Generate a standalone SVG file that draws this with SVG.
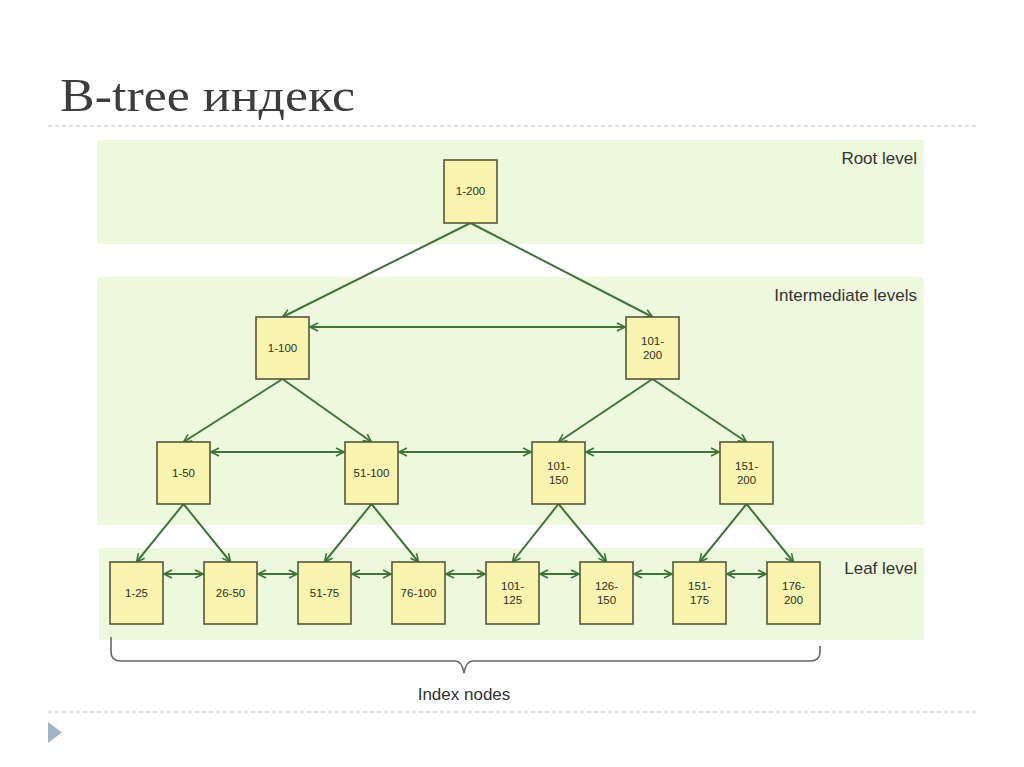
<svg xmlns="http://www.w3.org/2000/svg" width="1024" height="767" viewBox="0 0 1024 767">
<defs>
<style>
.band{fill:#edf9dc}
.node rect{fill:#f8f4b0;stroke:#55573a;stroke-width:1.6}
.node text{font-family:"Liberation Sans",Arial,sans-serif;font-size:11.5px;fill:#2e2e22;text-anchor:middle}
.edge{stroke:#3d7538;stroke-width:2;fill:none}
.lvl{font-family:"Liberation Sans",Arial,sans-serif;font-size:17px;fill:#333;text-anchor:end}
.dash{stroke:#b7bfc6;stroke-width:1.2;stroke-dasharray:4 3}
</style>
<marker id="ah" viewBox="0 0 10 10" refX="9" refY="5" markerWidth="5" markerHeight="5" orient="auto-start-reverse" markerUnits="strokeWidth">
<path d="M1,1 L9,5 L1,9" fill="none" stroke="#3d7538" stroke-width="1.6"/>
</marker>
</defs>
<rect width="1024" height="767" fill="#ffffff"/>
<text x="60" y="111" font-family="'Liberation Serif','Times New Roman',serif" font-size="46" fill="#3d3d3d" textLength="295" lengthAdjust="spacingAndGlyphs">B-tree индекс</text>
<line class="dash" x1="48" y1="126" x2="976" y2="126"/>
<line class="dash" x1="48" y1="712" x2="976" y2="712"/>
<polygon points="48,722 62,732.5 48,743" fill="#a0b6c4"/>

<g id="bands">
<rect class="band" x="97" y="140" width="827" height="104"/>
<rect class="band" x="97" y="277" width="827" height="248"/>
<rect class="band" x="99" y="548" width="825" height="92"/>
</g>
<g id="level-labels">
<text class="lvl" x="917" y="164">Root level</text>
<text class="lvl" x="917" y="301">Intermediate levels</text>
<text class="lvl" x="917" y="574">Leaf level</text>
</g>

<g id="connectors">
<line class="edge" x1="470.5" y1="223" x2="282.5" y2="317" marker-end="url(#ah)"/>
<line class="edge" x1="470.5" y1="223" x2="652.5" y2="317" marker-end="url(#ah)"/>
<line class="edge" x1="282.5" y1="379" x2="183.5" y2="442" marker-end="url(#ah)"/>
<line class="edge" x1="282.5" y1="379" x2="371.5" y2="442" marker-end="url(#ah)"/>
<line class="edge" x1="652.5" y1="379" x2="558.5" y2="442" marker-end="url(#ah)"/>
<line class="edge" x1="652.5" y1="379" x2="746.5" y2="442" marker-end="url(#ah)"/>
<line class="edge" x1="183.5" y1="504" x2="136.5" y2="562" marker-end="url(#ah)"/>
<line class="edge" x1="183.5" y1="504" x2="230.5" y2="562" marker-end="url(#ah)"/>
<line class="edge" x1="371.5" y1="504" x2="324.5" y2="562" marker-end="url(#ah)"/>
<line class="edge" x1="371.5" y1="504" x2="418.5" y2="562" marker-end="url(#ah)"/>
<line class="edge" x1="558.5" y1="504" x2="512.5" y2="562" marker-end="url(#ah)"/>
<line class="edge" x1="558.5" y1="504" x2="606.5" y2="562" marker-end="url(#ah)"/>
<line class="edge" x1="746.5" y1="504" x2="699.5" y2="562" marker-end="url(#ah)"/>
<line class="edge" x1="746.5" y1="504" x2="793.5" y2="562" marker-end="url(#ah)"/>
<line class="edge" x1="310" y1="327" x2="625" y2="327" marker-start="url(#ah)" marker-end="url(#ah)"/>
<line class="edge" x1="211" y1="452" x2="344" y2="452" marker-start="url(#ah)" marker-end="url(#ah)"/>
<line class="edge" x1="399" y1="452" x2="531" y2="452" marker-start="url(#ah)" marker-end="url(#ah)"/>
<line class="edge" x1="586" y1="452" x2="719" y2="452" marker-start="url(#ah)" marker-end="url(#ah)"/>
<line class="edge" x1="164" y1="574" x2="203" y2="574" marker-start="url(#ah)" marker-end="url(#ah)"/>
<line class="edge" x1="258" y1="574" x2="297" y2="574" marker-start="url(#ah)" marker-end="url(#ah)"/>
<line class="edge" x1="352" y1="574" x2="391" y2="574" marker-start="url(#ah)" marker-end="url(#ah)"/>
<line class="edge" x1="446" y1="574" x2="485" y2="574" marker-start="url(#ah)" marker-end="url(#ah)"/>
<line class="edge" x1="540" y1="574" x2="579" y2="574" marker-start="url(#ah)" marker-end="url(#ah)"/>
<line class="edge" x1="634" y1="574" x2="672" y2="574" marker-start="url(#ah)" marker-end="url(#ah)"/>
<line class="edge" x1="727" y1="574" x2="766" y2="574" marker-start="url(#ah)" marker-end="url(#ah)"/>
</g>

<g id="n-1-200" class="node"><rect x="444" y="160" width="53" height="63"/><text x="470.5" y="195">1-200</text></g>
<g id="n-1-100" class="node"><rect x="256" y="317" width="53" height="62"/><text x="282.5" y="352">1-100</text></g>
<g id="n-101-200" class="node"><rect x="626" y="317" width="53" height="62"/><text x="652.5" y="345">101-</text><text x="652.5" y="359">200</text></g>
<g id="n-1-50" class="node"><rect x="157" y="442" width="53" height="62"/><text x="183.5" y="477">1-50</text></g>
<g id="n-51-100" class="node"><rect x="345" y="442" width="53" height="62"/><text x="371.5" y="477">51-100</text></g>
<g id="n-101-150" class="node"><rect x="532" y="442" width="53" height="62"/><text x="558.5" y="470">101-</text><text x="558.5" y="484">150</text></g>
<g id="n-151-200" class="node"><rect x="720" y="442" width="53" height="62"/><text x="746.5" y="470">151-</text><text x="746.5" y="484">200</text></g>
<g id="n-1-25" class="node"><rect x="110" y="562" width="53" height="62"/><text x="136.5" y="597">1-25</text></g>
<g id="n-26-50" class="node"><rect x="204" y="562" width="53" height="62"/><text x="230.5" y="597">26-50</text></g>
<g id="n-51-75" class="node"><rect x="298" y="562" width="53" height="62"/><text x="324.5" y="597">51-75</text></g>
<g id="n-76-100" class="node"><rect x="392" y="562" width="53" height="62"/><text x="418.5" y="597">76-100</text></g>
<g id="n-101-125" class="node"><rect x="486" y="562" width="53" height="62"/><text x="512.5" y="590">101-</text><text x="512.5" y="604">125</text></g>
<g id="n-126-150" class="node"><rect x="580" y="562" width="53" height="62"/><text x="606.5" y="590">126-</text><text x="606.5" y="604">150</text></g>
<g id="n-151-175" class="node"><rect x="673" y="562" width="53" height="62"/><text x="699.5" y="590">151-</text><text x="699.5" y="604">175</text></g>
<g id="n-176-200" class="node"><rect x="767" y="562" width="53" height="62"/><text x="793.5" y="590">176-</text><text x="793.5" y="604">200</text></g>

<g id="brace">
<path d="M111,637 L111,652 Q111,661 121,661 L455,661 Q462,661 464,673 Q466,661 473,661 L810,661 Q820,661 820,652 L820,646" fill="none" stroke="#666" stroke-width="1.6"/>
<text x="464" y="700" font-family="'Liberation Sans',Arial,sans-serif" font-size="17" fill="#333" text-anchor="middle">Index nodes</text>
</g>
</svg>
